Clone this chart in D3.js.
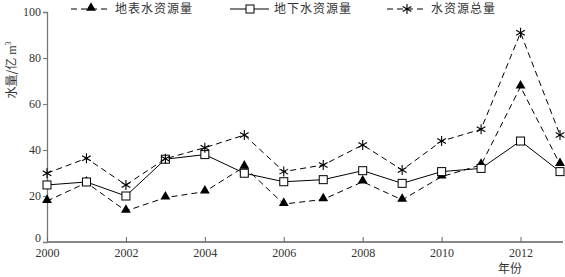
<!DOCTYPE html>
<html>
<head>
<meta charset="utf-8">
<script src="https://cdn.jsdelivr.net/npm/d3@7"></script>
<style>
  body { margin: 0; background: #fff; }
  text { font-family: "Liberation Serif", "Noto Sans CJK SC", serif; fill: #333; }
  .cn { font-family: "Noto Sans CJK SC", sans-serif; }
</style>
</head>
<body>
<svg id="chart" width="565" height="277"></svg>
<script>
const years = [2000, 2001, 2002, 2003, 2004, 2005, 2006, 2007, 2008, 2009, 2010, 2011, 2012, 2013];
const surfaceWater = [17.8, 25.8, 13.5, 19.3, 21.9, 32.7, 16.5, 18.5, 26.2, 18.3, 28.4, 33.5, 67.5, 33.8];
const groundWater = [24.8, 26.1, 20.0, 36.0, 38.0, 29.9, 26.2, 27.1, 31.0, 25.5, 30.6, 32.0, 43.9, 30.6];
const totalWater = [29.9, 36.4, 24.8, 36.2, 41.0, 46.5, 30.6, 33.5, 42.2, 31.3, 43.9, 49.0, 91.0, 46.5];
const xTicks = [2000, 2002, 2004, 2006, 2008, 2010, 2012];
const yTicks = [0, 20, 40, 60, 80, 100];
const seriesNames = ['地表水资源量', '地下水资源量', '水资源总量'];

const svg = d3.select('#chart');
const x = d3.scaleLinear().domain([2000, 2013]).range([47, 560]);
const y = d3.scaleLinear().domain([0, 100]).range([242, 12]);

const series = [
  { name: seriesNames[0], values: surfaceWater, dash: '6,4', marker: 'tri' },
  { name: seriesNames[1], values: groundWater, dash: null, marker: 'square' },
  { name: seriesNames[2], values: totalWater, dash: '6,4', marker: 'star' },
];

// axes
const yAxis = svg.append('g')
  .attr('transform', `translate(${x(2000)},0)`)
  .call(d3.axisLeft(y).tickValues(yTicks).tickSize(4).tickPadding(2));
yAxis.select('.domain').attr('stroke', '#777').attr('stroke-width', 1.3);
yAxis.selectAll('.tick line').attr('stroke', '#777');
yAxis.selectAll('text').attr('font-size', 12).style('fill', '#333');
yAxis.selectAll('.tick text').filter(d => d === 0).attr('dy', '-0.05em');

const xAxis = svg.append('g')
  .attr('transform', `translate(0,${y(0)})`)
  .call(d3.axisBottom(x).tickValues(xTicks).tickFormat(d3.format('d')).tickSize(-5).tickPadding(6));
xAxis.select('.domain').attr('d', `M${x(2000)},0H563`).attr('stroke', '#888').attr('stroke-width', 2);
xAxis.selectAll('.tick line').attr('stroke', '#666');
xAxis.selectAll('text').attr('font-size', 12).style('fill', '#333');

// axis titles
svg.append('text')
  .attr('transform', 'translate(16,70) rotate(-90)')
  .attr('text-anchor', 'middle')
  .attr('font-size', 12)
  .html('<tspan class="cn">水量/亿</tspan> m<tspan dy="-5" font-size="8">3</tspan>');

svg.append('text')
  .attr('class', 'cn')
  .attr('x', 510)
  .attr('y', 273)
  .attr('text-anchor', 'middle')
  .attr('font-size', 12)
  .text('年份');

function drawMarker(g, type, cx, cy) {
  if (type === 'tri') {
    g.append('path')
      .attr('d', d3.symbol().type(d3.symbolTriangle).size(42)())
      .attr('transform', `translate(${cx},${cy - 1})`)
      .attr('fill', '#000');
  } else if (type === 'square') {
    g.append('rect')
      .attr('x', cx - 4).attr('y', cy - 4)
      .attr('width', 8).attr('height', 8)
      .attr('fill', '#fff').attr('stroke', '#000').attr('stroke-width', 1);
  } else {
    g.append('path')
      .attr('d', d3.symbol().type(d3.symbolAsterisk).size(70)())
      .attr('transform', `translate(${cx},${cy})`)
      .attr('fill', 'none').attr('stroke', '#000').attr('stroke-width', 1.1);
  }
}

const line = d3.line().x((d, i) => x(years[i])).y(d => y(d));

series.forEach((s) => {
  svg.append('path')
    .datum(s.values)
    .attr('d', line)
    .attr('fill', 'none')
    .attr('stroke', '#000')
    .attr('stroke-width', 1)
    .attr('stroke-dasharray', s.dash);
  const g = svg.append('g');
  s.values.forEach((v, i) => drawMarker(g, s.marker, x(years[i]), y(v)));
});

// legend
const legendX = [71, 230, 387];
series.forEach((s, i) => {
  const g = svg.append('g').attr('transform', `translate(${legendX[i]},9)`);
  g.append('line')
    .attr('x1', 0).attr('x2', 39)
    .attr('stroke', '#000').attr('stroke-width', 1)
    .attr('stroke-dasharray', s.dash ? '6,4' : null);
  drawMarker(g, s.marker, 20, 0);
  g.append('text')
    .attr('class', 'cn')
    .attr('x', 44)
    .attr('y', 0)
    .attr('dy', '0.35em')
    .attr('font-size', 12)
    .attr('letter-spacing', 1)
    .text(s.name);
});
</script>
</body>
</html>
